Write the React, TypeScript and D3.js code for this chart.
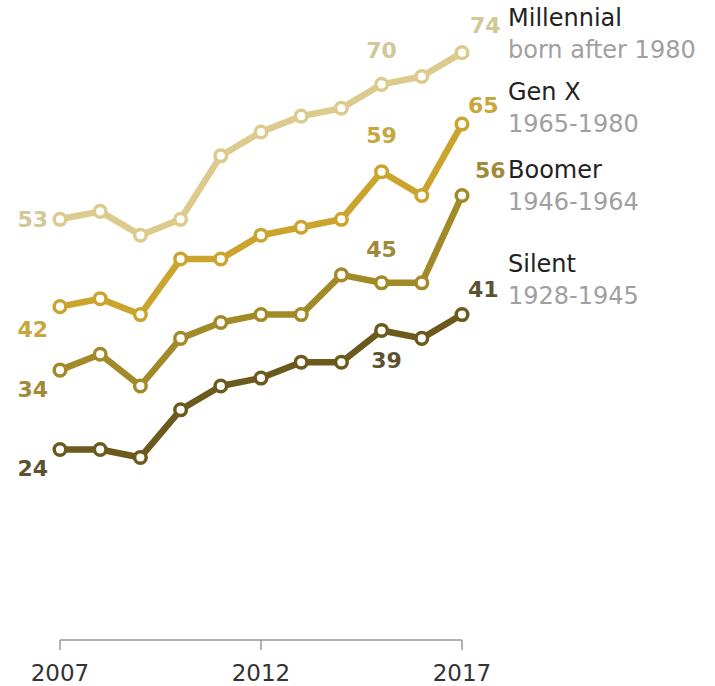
import React from "react";
import * as d3 from "d3";

const years = [2007, 2008, 2009, 2010, 2011, 2012, 2013, 2014, 2015, 2016, 2017];
const millennial = [53, 54, 51, 53, 61, 64, 66, 67, 70, 71, 74];
const genX = [42, 43, 41, 48, 48, 51, 52, 53, 59, 56, 65];
const boomer = [34, 36, 32, 38, 40, 41, 41, 46, 45, 45, 56];
const silent = [24, 24, 23, 29, 32, 33, 35, 35, 39, 38, 41];
const seriesNames = ["Millennial", "Gen X", "Boomer", "Silent"];
const seriesSubtitles = ["born after 1980", "1965-1980", "1946-1964", "1928-1945"];
const tickYears = [2007, 2012, 2017];
// years whose values are printed, per series
const labeledYears = [2007, 2015, 2017];

const W = 715;
const H = 686;
const lineColors = ["#dccb8c", "#cba42e", "#a38a28", "#6b5a1c"];
const labelColors = ["#d2c796", "#c7a63c", "#a08a38", "#5c5230"];

// label layout: [dx, dy, anchor] for 2007, 2015, 2017 per series
const labelLayout: [number, number, string][][] = [
  [[-12, 8, "end"], [0, -26, "middle"], [8, -20, "start"]],
  [[-12, 30, "end"], [0, -29, "middle"], [6, -11, "start"]],
  [[-12, 27, "end"], [0, -26, "middle"], [13, -18, "start"]],
  [[-12, 26, "end"], [5, 38, "middle"], [6, -18, "start"]],
];
const legendBaselines = [26, 100, 178, 272];

export default function App() {
  const x = d3.scaleLinear().domain([2007, 2017]).range([60, 462]);
  const y = d3.scaleLinear().domain([0, 80]).range([640, 5]);
  const all = [millennial, genX, boomer, silent];
  const line = d3
    .line<number>()
    .x((_, i) => x(years[i]))
    .y((d) => y(d));
  const font = "'DejaVu Sans', sans-serif";

  return (
    <svg
      width={W}
      height={H}
      style={{ position: "absolute", left: 0, top: 0, display: "block", background: "#fff" }}
    >
      {/* axis */}
      <g>
        <line x1={x(2007)} x2={x(2017)} y1={y(0)} y2={y(0)} stroke="#999" strokeWidth={1.5} />
        {tickYears.map((t) => (
          <g key={t}>
            <line x1={x(t)} x2={x(t)} y1={y(0)} y2={y(0) + 10} stroke="#999" strokeWidth={1.5} />
            <text
              x={x(t)}
              y={681}
              textAnchor="middle"
              fontFamily={font}
              fontSize={23}
              fill="#333"
            >
              {t}
            </text>
          </g>
        ))}
      </g>
      {/* lines */}
      {all.map((vals, si) => (
        <g key={si}>
          <path d={line(vals) || ""} fill="none" stroke={lineColors[si]} strokeWidth={6.5} strokeLinejoin="round" />
          {vals.map((v, i) => (
            <circle
              key={i}
              cx={x(years[i])}
              cy={y(v)}
              r={5.8}
              fill="#fff"
              stroke={lineColors[si]}
              strokeWidth={3.5}
            />
          ))}
        </g>
      ))}
      {/* value labels */}
      {all.map((vals, si) =>
        labeledYears.map((yr, li) => {
          const i = years.indexOf(yr);
          const [dx, dy, anchor] = labelLayout[si][li];
          return (
            <text
              key={`${si}-${li}`}
              x={x(yr) + dx}
              y={y(vals[i]) + dy}
              textAnchor={anchor as any}
              fontFamily={font}
              fontWeight="bold"
              fontSize={22}
              fill={labelColors[si]}
            >
              {vals[i]}
            </text>
          );
        })
      )}
      {/* legend */}
      {seriesNames.map((name, si) => (
        <g key={name}>
          <text x={508} y={legendBaselines[si]} fontFamily={font} fontSize={24} fill="#222">
            {name}
          </text>
          <text x={508} y={legendBaselines[si] + 32} fontFamily={font} fontSize={24} fill="#a0a0a0">
            {seriesSubtitles[si]}
          </text>
        </g>
      ))}
    </svg>
  );
}
